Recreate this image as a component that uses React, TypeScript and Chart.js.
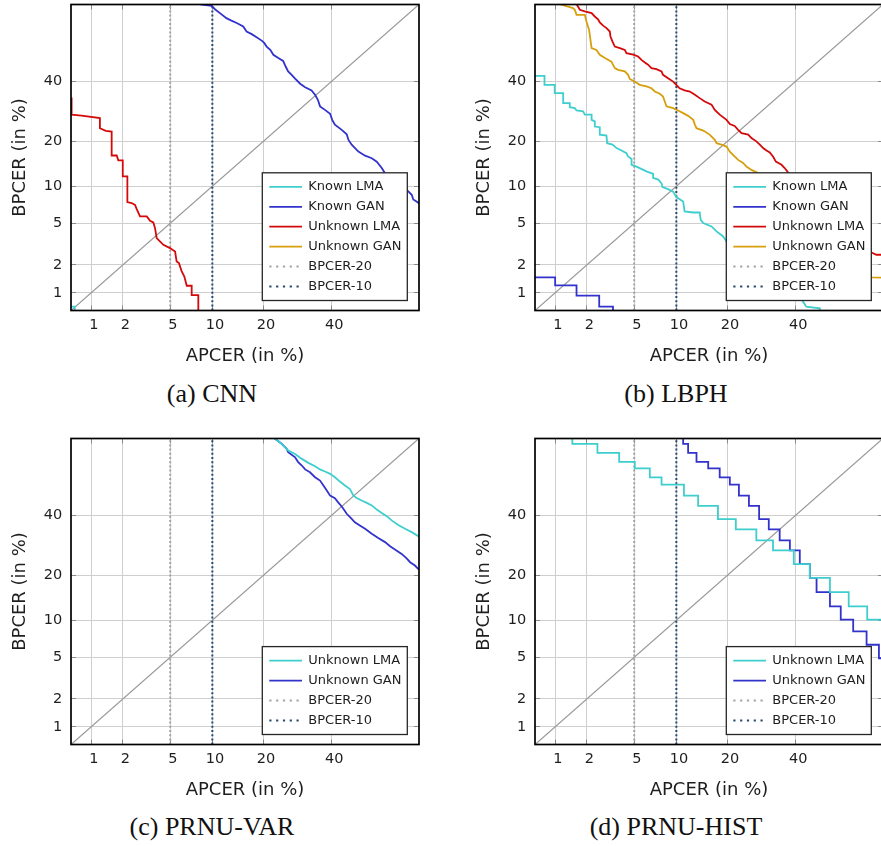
import React, { useEffect, useRef } from 'react';
import { Chart, registerables, LinearScale } from 'chart.js';

Chart.register(...registerables);

// ---------------- data (all values in %) ----------------
const AXIS_MIN = 0.621; // probit -2.5
const AXIS_MAX = 69.146; // probit 0.5
const TICKS = [1, 2, 5, 10, 20, 40];
const TICK_LABELS = ['1', '2', '5', '10', '20', '40'];
const BPCER20_APCER = 5;
const BPCER10_APCER = 10;
const DIAGONAL = [0.3, 90];

// [APCER, BPCER]
const CNN_KNOWN_LMA = [[0.5, 0.69], [0.68, 0.69], [0.68, 0.4]];
const CNN_KNOWN_GAN = [[8.3, 69.2], [9.9, 68.7], [10.4, 67.5], [11.2, 66.1], [12.3, 64.3], [13.2, 63.4], [14.2, 62.5], [15.5, 61.2], [16.2, 59.3], [17.3, 58.3], [18.4, 57.1], [19.6, 55.8], [20.2, 54.9], [20.8, 53.5], [21.7, 52.2], [22.5, 50.3], [23.8, 49.0], [25.1, 47.9], [25.8, 45.7], [26.5, 43.8], [27.5, 42.5], [28.5, 41.0], [30.0, 39.1], [31.5, 37.8], [33.5, 36.6], [34.6, 35.0], [35.5, 33.2], [36.2, 30.9], [37.8, 29.7], [39.5, 28.4], [40.2, 26.4], [41.1, 24.9], [43.4, 23.3], [45.1, 22.0], [45.7, 20.4], [46.8, 19.1], [49.1, 17.3], [51.4, 16.3], [53.7, 15.7], [55.4, 14.9], [57.1, 13.5], [58.2, 12.4], [61.5, 11.2], [65.5, 9.3], [66.9, 8.6], [67.4, 7.9], [69.1, 7.4], [72, 7.2]];
const CNN_UNKNOWN_LMA = [[0.63, 34.0], [0.63, 28.1], [0.8, 27.8], [1.22, 27.0], [1.22, 23.8], [1.39, 23.0], [1.58, 22.8], [1.58, 16.35], [1.76, 16.35], [1.82, 15.2], [2.0, 15.2], [2.0, 11.8], [2.2, 11.8], [2.2, 7.54], [2.4, 7.4], [2.57, 7.16], [2.66, 6.6], [2.84, 5.73], [3.24, 5.73], [3.45, 5.26], [3.67, 5.08], [3.79, 4.53], [3.91, 3.67], [4.42, 3.17], [4.98, 2.95], [5.45, 2.73], [5.6, 2.17], [5.83, 2.09], [6.11, 1.71], [6.39, 1.51], [6.65, 1.2], [7.22, 1.2], [7.22, 0.94], [8.04, 0.94], [8.04, 0.3]];
const CNN_UNKNOWN_GAN: number[][] = [];

const LBPH_KNOWN_LMA = [[0.5, 42.1], [0.78, 42.1], [0.78, 38.7], [0.99, 38.7], [0.99, 35.6], [1.2, 35.6], [1.2, 32.0], [1.39, 32.0], [1.39, 30.6], [1.55, 30.3], [1.61, 29.5], [1.85, 29.2], [1.92, 28.1], [2.21, 28.1], [2.21, 26.4], [2.36, 25.9], [2.36, 24.3], [2.61, 24.1], [2.61, 21.9], [2.98, 21.6], [3.02, 19.5], [3.35, 19.1], [3.62, 18.2], [3.97, 17.6], [4.35, 16.9], [4.48, 16.1], [4.77, 15.5], [4.77, 14.2], [5.21, 13.8], [6.19, 12.8], [6.92, 12.3], [6.92, 11.5], [7.52, 11.2], [7.94, 10.5], [8.06, 9.85], [8.8, 9.5], [9.52, 9.1], [10.0, 8.26], [11.07, 7.62], [11.3, 6.32], [12.8, 6.19], [14.0, 6.19], [14.2, 5.36], [14.7, 5.02], [16.4, 4.69], [17.5, 4.23], [19.0, 3.8], [19.8, 3.41], [30, 2.0], [42.5, 0.79], [43.6, 0.69], [48.2, 0.66], [48.2, 0.4]];
const LBPH_KNOWN_GAN = [[0.5, 1.48], [1.0, 1.48], [1.0, 1.21], [1.61, 1.21], [1.61, 0.93], [2.58, 0.93], [2.58, 0.69], [3.38, 0.69], [3.38, 0.4]];
const LBPH_UNKNOWN_LMA = [[1.45, 72], [1.73, 67.3], [1.92, 66.7], [2.21, 66.1], [2.36, 64.9], [2.52, 63.9], [2.61, 62.7], [2.79, 61.5], [2.98, 60.6], [3.18, 59.3], [3.22, 57.4], [3.35, 55.4], [3.5, 53.5], [3.85, 52.9], [4.22, 52.2], [4.35, 50.9], [4.91, 50.3], [5.36, 49.6], [5.68, 48.3], [6.02, 47.3], [6.36, 46.4], [6.73, 45.1], [7.31, 44.7], [7.94, 43.8], [8.13, 42.5], [8.8, 41.2], [9.52, 39.9], [10.0, 38.7], [10.5, 37.4], [11.3, 36.6], [12.2, 36.2], [13.1, 35.0], [14.0, 33.8], [15.0, 32.6], [16.4, 31.5], [17.1, 29.7], [18.2, 28.1], [19.8, 26.4], [20.6, 25.1], [21.8, 24.5], [22.7, 23.3], [23.6, 22.3], [25.4, 21.9], [26.3, 20.9], [27.7, 20.0], [28.7, 19.1], [29.7, 18.2], [30.7, 17.6], [31.7, 17.1], [32.7, 16.1], [33.6, 14.9], [35.4, 14.2], [36.4, 13.5], [37.5, 12.6], [45, 8], [55, 4.5], [62, 3.2], [65.6, 2.67], [67.1, 2.54], [72, 2.54]];
const LBPH_UNKNOWN_GAN = [[1.05, 69.5], [1.34, 68.4], [1.49, 67.9], [1.55, 67.3], [1.61, 65.5], [1.92, 65.5], [1.99, 63.0], [2.1, 59.9], [2.17, 55.4], [2.21, 52.9], [2.44, 52.2], [2.61, 50.3], [2.89, 49.0], [3.28, 47.6], [3.5, 45.1], [3.72, 44.4], [4.22, 43.8], [4.48, 42.5], [4.62, 40.9], [5.05, 39.9], [5.51, 38.7], [6.19, 38.1], [6.73, 37.4], [7.12, 36.2], [7.72, 35.4], [8.13, 34.4], [8.36, 32.6], [8.59, 30.9], [9.52, 30.3], [10.27, 29.5], [11.07, 28.6], [11.9, 27.7], [12.8, 26.4], [13.1, 24.9], [13.4, 23.8], [14.7, 23.1], [16.0, 21.9], [17.1, 20.4], [17.5, 19.5], [18.6, 19.1], [19.8, 18.6], [20.6, 17.3], [21.4, 16.5], [22.7, 15.3], [24.0, 14.6], [24.9, 13.8], [26.3, 13.1], [27.8, 12.6], [35, 8], [45, 4.5], [55, 2.5], [65.6, 1.48], [72, 1.46]];

const VAR_UNKNOWN_LMA = [[22.0, 72], [22.9, 69.1], [24.7, 67.3], [26.5, 64.9], [28.5, 63.6], [30.5, 61.8], [32.5, 60.3], [34.6, 59.0], [36.2, 57.8], [37.8, 57.0], [39.5, 56.1], [41.1, 54.8], [42.8, 53.1], [44.5, 51.6], [46.2, 50.2], [47.4, 47.6], [48.5, 46.7], [50.2, 45.7], [52.0, 44.8], [53.7, 43.8], [55.4, 42.2], [57.1, 40.9], [58.8, 39.7], [60.4, 38.1], [62.6, 36.4], [64.8, 35.0], [66.9, 33.8], [68.9, 32.4], [72, 32.0]];
const VAR_UNKNOWN_GAN = [[22.0, 72], [22.9, 69.1], [24.7, 67.3], [26.1, 65.5], [26.5, 64.3], [28.5, 62.4], [29.4, 60.6], [30.5, 59.3], [31.5, 57.8], [33.0, 56.7], [34.6, 54.8], [36.2, 53.5], [37.3, 51.6], [38.4, 49.6], [39.5, 47.6], [41.1, 46.6], [42.2, 45.0], [43.6, 43.1], [45.1, 40.6], [46.8, 38.7], [47.9, 37.4], [49.6, 36.2], [51.4, 35.0], [53.7, 33.2], [55.9, 31.7], [58.2, 30.3], [59.9, 28.9], [61.5, 27.8], [63.7, 26.4], [65.3, 25.0], [66.4, 23.8], [67.9, 22.8], [68.9, 21.8], [72, 21.2]];

const HIST_UNKNOWN_LMA = [[1.47, 72], [1.47, 67.3], [2.49, 64.0], [3.8, 60.7], [5.05, 58.2], [6.55, 54.7], [7.94, 51.9], [11.2, 47.6], [13.7, 43.6], [17.8, 38.6], [22.1, 34.8], [27.7, 30.9], [32.7, 27.5], [39.4, 23.2], [44.8, 19.3], [51.7, 15.7], [58.1, 12.6], [64.2, 10.1], [72, 10.1]];
const HIST_UNKNOWN_GAN = [[10.8, 72], [11.07, 67.3], [11.9, 64.0], [13.4, 60.7], [15.7, 58.2], [18.2, 54.7], [20.6, 51.9], [22.9, 47.6], [25.6, 43.6], [28.5, 38.6], [31.4, 34.8], [34.8, 30.9], [38.1, 27.5], [41.4, 23.2], [44.8, 19.3], [47.1, 15.7], [51.7, 12.6], [55.4, 10.1], [59.6, 8.2], [64.0, 6.4], [67.9, 4.9], [72, 4.9]];

// ---------------- style ----------------
const SANS = '"DejaVu Sans", sans-serif';
const TEXT = '#1e1e1e';
const GRID = '#cfcfcf';
const TICK_MARK = '#8a8a8a';
const C_CYAN = '#3ecece';
const C_BLUE = '#3232cc';
const C_RED = '#d40a0a';
const C_GOLD = '#d6a00c';
const C_B20 = '#a3a3a3';
const C_B10 = '#264a6e';
const C_DIAG = '#9a9a9a';

Chart.defaults.font.family = SANS;

// ---------------- probit helpers ----------------
function probit(percent: number): number {
  const p = Math.min(Math.max(percent / 100, 1e-9), 1 - 1e-9);
  const a = [-3.969683028665376e1, 2.209460984245205e2, -2.759285104469687e2, 1.38357751867269e2, -3.066479806614716e1, 2.506628277459239];
  const b = [-5.447609879822406e1, 1.615858368580409e2, -1.556989798598866e2, 6.680131188771972e1, -1.328068155288572e1];
  const c = [-7.784894002430293e-3, -3.223964580411365e-1, -2.400758277161838, -2.549671039276839, 4.374664141464968, 2.938163982698783];
  const d = [7.784695709041462e-3, 3.224671290700398e-1, 2.445134137142996, 3.754408661907416];
  const plow = 0.02425;
  if (p < plow) {
    const q = Math.sqrt(-2 * Math.log(p));
    return (((((c[0] * q + c[1]) * q + c[2]) * q + c[3]) * q + c[4]) * q + c[5]) / ((((d[0] * q + d[1]) * q + d[2]) * q + d[3]) * q + 1);
  }
  if (p <= 1 - plow) {
    const q = p - 0.5;
    const r = q * q;
    return ((((((a[0] * r + a[1]) * r + a[2]) * r + a[3]) * r + a[4]) * r + a[5]) * q) / (((((b[0] * r + b[1]) * r + b[2]) * r + b[3]) * r + b[4]) * r + 1);
  }
  const q = Math.sqrt(-2 * Math.log(1 - p));
  return -(((((c[0] * q + c[1]) * q + c[2]) * q + c[3]) * q + c[4]) * q + c[5]) / ((((d[0] * q + d[1]) * q + d[2]) * q + d[3]) * q + 1);
}
function normCdf(z: number): number {
  const t = 1 / (1 + 0.2316419 * Math.abs(z));
  const dd = 0.3989423 * Math.exp((-z * z) / 2);
  const pr = dd * t * (0.3193815 + t * (-0.3565638 + t * (1.781478 + t * (-1.821256 + t * 1.330274))));
  return z > 0 ? 1 - pr : pr;
}

class ProbitScale extends LinearScale {
  static id = 'probit';
  buildTicks() {
    return TICKS.map((v) => ({ value: v }));
  }
  getPixelForValue(value: number) {
    if (value === null || value === undefined || isNaN(value)) return NaN;
    const z0 = probit((this as any).min);
    const z1 = probit((this as any).max);
    return (this as any).getPixelForDecimal((probit(value) - z0) / (z1 - z0));
  }
  getValueForPixel(pixel: number) {
    const z0 = probit((this as any).min);
    const z1 = probit((this as any).max);
    return 100 * normCdf(z0 + (this as any).getDecimalForPixel(pixel) * (z1 - z0));
  }
}
Chart.register(ProbitScale as any);

// ---------------- layout ----------------
const CW = 440;
const CH = 367;
const AREA_LEFT = 71;
const AREA_RIGHT = 419;
const AREA_TOP = 4.5;
const AREA_BOTTOM = 310.5;

const pts = (arr: number[][]) => arr.map(([x, y]) => ({ x, y }));

function curve(label: string, data: number[][], color: string, stepped: any = false) {
  return { label, data: pts(data), borderColor: color, borderWidth: 1.8, pointRadius: 0, tension: 0, stepped, fill: false, borderJoinStyle: 'miter' };
}
function vline(label: string, x: number, color: string) {
  return { label, data: [{ x, y: DIAGONAL[0] }, { x, y: DIAGONAL[1] }], borderColor: color, borderWidth: 2, borderDash: [2, 2.2], legendDash: [2.2, 4.6], pointRadius: 0, fill: false };
}
function diag() {
  return { label: '', data: [{ x: DIAGONAL[0], y: DIAGONAL[0] }, { x: DIAGONAL[1], y: DIAGONAL[1] }], borderColor: C_DIAG, borderWidth: 1.3, pointRadius: 0, fill: false };
}

const decor = {
  id: 'decor',
  beforeDatasetsDraw(chart: any) {
    const { ctx, chartArea: ca, scales } = chart;
    const al = (p: number) => Math.round(p - 0.5) + 0.5;
    ctx.save();
    ctx.strokeStyle = TICK_MARK;
    ctx.lineWidth = 1;
    ctx.beginPath();
    TICKS.forEach((v) => {
      const px = al(scales.x.getPixelForValue(v));
      ctx.moveTo(px, ca.bottom);
      ctx.lineTo(px, ca.bottom - 5);
      ctx.moveTo(px, ca.top);
      ctx.lineTo(px, ca.top + 5);
      const py = al(scales.y.getPixelForValue(v));
      ctx.moveTo(ca.left, py);
      ctx.lineTo(ca.left + 5, py);
      ctx.moveTo(ca.right, py);
      ctx.lineTo(ca.right - 5, py);
    });
    ctx.stroke();
    ctx.restore();
  },
  afterDatasetsDraw(chart: any) {
    const { ctx, chartArea: ca } = chart;
    ctx.save();
    ctx.strokeStyle = '#000';
    ctx.lineWidth = 1.7;
    ctx.strokeRect(ca.left, ca.top, ca.right - ca.left, ca.bottom - ca.top);
    const items = chart.data.datasets.filter((d: any) => d.label);
    const w = 145;
    const h = items.length * 19.9 + 8.3;
    const bx = ca.right - 11.7 - w;
    const by = ca.bottom - 10 - h;
    ctx.fillStyle = '#fff';
    ctx.fillRect(bx, by, w, h);
    ctx.strokeStyle = '#262626';
    ctx.lineWidth = 1.3;
    ctx.strokeRect(bx, by, w, h);
    items.forEach((d: any, i: number) => {
      const cy = by + 14.1 + i * 19.9;
      ctx.setLineDash(d.legendDash || []);
      ctx.strokeStyle = d.borderColor;
      ctx.lineWidth = d.borderWidth;
      ctx.beginPath();
      ctx.moveTo(bx + 7, cy);
      ctx.lineTo(bx + 39.7, cy);
      ctx.stroke();
      ctx.setLineDash([]);
      ctx.fillStyle = TEXT;
      ctx.font = '13px ' + SANS;
      ctx.textBaseline = 'middle';
      ctx.textAlign = 'left';
      ctx.fillText(d.label, bx + 46, cy);
    });
    ctx.restore();
  },
};

function axisOpts(isX: boolean) {
  return {
    type: 'probit',
    min: AXIS_MIN,
    max: AXIS_MAX,
    grid: { color: GRID, lineWidth: 1, drawTicks: false },
    border: { display: false },
    ticks: {
      padding: isX ? 6 : 8.7,
      labelOffset: isX ? 2.7 : 0,
      autoSkip: false,
      maxRotation: 0,
      color: TEXT,
      font: { family: SANS, size: 14.5 },
      callback: (_v: any, i: number) => TICK_LABELS[i],
    },
    title: {
      display: true,
      text: isX ? 'APCER (in %)' : 'BPCER (in %)',
      color: TEXT,
      font: { family: SANS, size: 18 },
      padding: isX ? { top: 0, bottom: 0 } : { top: 9.5, bottom: 0 },
    },
    afterFit: (s: any) => {
      if (isX) {
        s.height = CH - AREA_BOTTOM;
        s.paddingLeft = 0;
        s.paddingRight = 0;
      } else {
        s.width = AREA_LEFT;
        s.paddingTop = 0;
        s.paddingBottom = 0;
      }
    },
  };
}

function Panel({ left, top, datasets }: { left: number; top: number; datasets: any[] }) {
  const ref = useRef<HTMLCanvasElement>(null);
  useEffect(() => {
    const chart = new Chart(ref.current as HTMLCanvasElement, {
      type: 'line',
      data: { datasets },
      options: {
        animation: false,
        responsive: false,
        devicePixelRatio: 1,
        layout: { padding: { left: 0, top: AREA_TOP, right: CW - AREA_RIGHT, bottom: 0 } },
        plugins: { legend: { display: false }, tooltip: { enabled: false } },
        scales: { x: axisOpts(true) as any, y: axisOpts(false) as any },
      },
      plugins: [decor as any],
    });
    return () => chart.destroy();
  }, []);
  return <canvas ref={ref} width={CW} height={CH} style={{ position: 'absolute', left, top, width: CW, height: CH }} />;
}

function Caption({ cx, top, text }: { cx: number; top: number; text: string }) {
  return (
    <div style={{ position: 'absolute', left: cx - 150, top, width: 300, textAlign: 'center', fontFamily: '"Liberation Serif", serif', fontSize: 26, lineHeight: '26px', color: '#111', whiteSpace: 'nowrap' }}>
      {text}
    </div>
  );
}

export default function App() {
  const cnn = [
    curve('Known LMA', CNN_KNOWN_LMA, C_CYAN),
    curve('Known GAN', CNN_KNOWN_GAN, C_BLUE),
    curve('Unknown LMA', CNN_UNKNOWN_LMA, C_RED),
    curve('Unknown GAN', CNN_UNKNOWN_GAN, C_GOLD),
    vline('BPCER-20', BPCER20_APCER, C_B20),
    vline('BPCER-10', BPCER10_APCER, C_B10),
    diag(),
  ];
  const lbph = [
    curve('Known LMA', LBPH_KNOWN_LMA, C_CYAN),
    curve('Known GAN', LBPH_KNOWN_GAN, C_BLUE),
    curve('Unknown LMA', LBPH_UNKNOWN_LMA, C_RED),
    curve('Unknown GAN', LBPH_UNKNOWN_GAN, C_GOLD),
    vline('BPCER-20', BPCER20_APCER, C_B20),
    vline('BPCER-10', BPCER10_APCER, C_B10),
    diag(),
  ];
  const prnuVar = [
    curve('Unknown LMA', VAR_UNKNOWN_LMA, C_CYAN),
    curve('Unknown GAN', VAR_UNKNOWN_GAN, C_BLUE),
    vline('BPCER-20', BPCER20_APCER, C_B20),
    vline('BPCER-10', BPCER10_APCER, C_B10),
    diag(),
  ];
  const prnuHist = [
    curve('Unknown LMA', HIST_UNKNOWN_LMA, C_CYAN, 'before'),
    curve('Unknown GAN', HIST_UNKNOWN_GAN, C_BLUE, 'before'),
    vline('BPCER-20', BPCER20_APCER, C_B20),
    vline('BPCER-10', BPCER10_APCER, C_B10),
    diag(),
  ];
  return (
    <div style={{ position: 'fixed', left: 0, top: 0, width: 881, height: 846, overflow: 'hidden', background: '#fff' }}>
      <Panel left={0} top={0} datasets={cnn} />
      <Panel left={464} top={0} datasets={lbph} />
      <Panel left={0} top={434} datasets={prnuVar} />
      <Panel left={464} top={434} datasets={prnuHist} />
      <Caption cx={212} top={381} text="(a) CNN" />
      <Caption cx={676} top={381} text="(b) LBPH" />
      <Caption cx={212} top={814} text="(c) PRNU-VAR" />
      <Caption cx={676} top={814} text="(d) PRNU-HIST" />
    </div>
  );
}
